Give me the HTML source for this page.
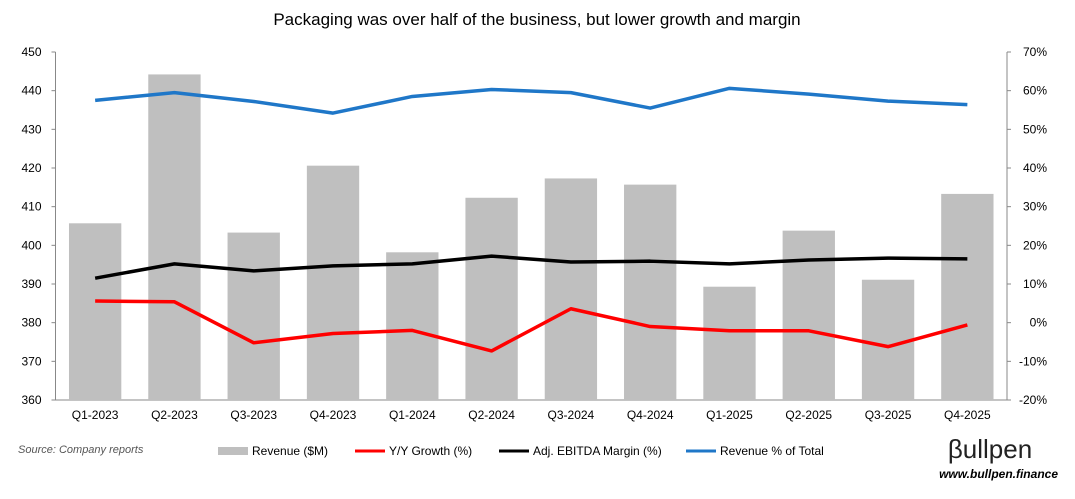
<!DOCTYPE html>
<html><head><meta charset="utf-8"><style>
body{margin:0;background:#fff;font-family:"Liberation Sans",sans-serif;}
svg text{font-family:"Liberation Sans",sans-serif;}
</style></head><body>
<svg id="chart" width="1075" height="494" xmlns="http://www.w3.org/2000/svg">
<text x="537" y="25" text-anchor="middle" font-size="17" fill="#000">Packaging was over half of the business, but lower growth and margin</text>
<g id="plot"></g>
<text x="18" y="453" font-size="11" font-style="italic" fill="#555">Source: Company reports</text>
<g>
<rect x="218" y="447" width="30" height="8" fill="#bfbfbf"/>
<text x="252" y="455" font-size="12">Revenue ($M)</text>
<line x1="355" y1="451" x2="385" y2="451" stroke="#ff0000" stroke-width="3"/>
<text x="389" y="455" font-size="12">Y/Y Growth (%)</text>
<line x1="499" y1="451" x2="529" y2="451" stroke="#000" stroke-width="3"/>
<text x="533" y="455" font-size="12">Adj. EBITDA Margin (%)</text>
<line x1="686" y1="451" x2="716" y2="451" stroke="#1f77c8" stroke-width="3"/>
<text x="720" y="455" font-size="12">Revenue % of Total</text>
</g>
<text x="990" y="458" font-size="26" fill="#222" text-anchor="middle">βullpen</text>
<text x="1058" y="478" font-size="12" font-style="italic" font-weight="bold" text-anchor="end">www.bullpen.finance</text>
</svg>
<script>
const categories=["Q1-2023","Q2-2023","Q3-2023","Q4-2023","Q1-2024","Q2-2024","Q3-2024","Q4-2024","Q1-2025","Q2-2025","Q3-2025","Q4-2025"];
const revenue=[405.7,444.2,403.3,420.6,398.2,412.3,417.3,415.7,389.3,403.8,391.1,413.3];
const growth=[5.6,5.4,-5.2,-2.8,-2.0,-7.3,3.6,-1.0,-2.1,-2.1,-6.2,-0.6];
const margin=[11.5,15.2,13.4,14.7,15.2,17.2,15.7,15.9,15.2,16.2,16.7,16.5];
const share=[57.5,59.5,57.2,54.2,58.5,60.3,59.5,55.5,60.6,59.1,57.3,56.4];
const leftTicks=[360,370,380,390,400,410,420,430,440,450];
const rightTicks=[-20,-10,0,10,20,30,40,50,60,70];
const NS="http://www.w3.org/2000/svg";
const g=document.getElementById('plot');
const X0=55.5,X1=1007,Y0=52,Y1=400;
const bw=(X1-X0)/categories.length;
const xc=i=>X0+bw*(i+0.5);
const yL=v=>Y1-(v-360)/90*(Y1-Y0);
const yR=v=>Y1-(v+20)/90*(Y1-Y0);
function mk(t,a){const e=document.createElementNS(NS,t);for(const k in a)e.setAttribute(k,a[k]);g.appendChild(e);return e;}
let e;
e=mk('line',{x1:X0,y1:Y0,x2:X0,y2:Y1,stroke:'#888'});


e=mk('line',{x1:X1,y1:Y0,x2:X1,y2:Y1,stroke:'#888'});


e=mk('line',{x1:X0,y1:Y1,x2:X1,y2:Y1,stroke:'#888'});


leftTicks.forEach(v=>{
 e=mk('text',{x:X0-14,y:yL(v)+4,'font-size':12,'text-anchor':'end'});e.textContent=v;
 
 
 mk('line',{x1:X0-4,y1:yL(v),x2:X0,y2:yL(v),stroke:'#888'});
});
rightTicks.forEach(v=>{
 e=mk('text',{x:X1+40,y:yR(v)+4,'font-size':12,'text-anchor':'end'});e.textContent=v+'%';
 
 
 mk('line',{x1:X1,y1:yR(v),x2:X1+4,y2:yR(v),stroke:'#888'});
});
categories.forEach((c,i)=>{
 e=mk('rect',{x:xc(i)-bw*0.33,y:yL(revenue[i]),width:bw*0.66,height:Y1-yL(revenue[i]),fill:'#bfbfbf'});
 
 
 e=mk('text',{x:xc(i),y:Y1+19,'font-size':12,'text-anchor':'middle'});e.textContent=c;
 
 
});
function line(arr,col,name){
 e=mk('polyline',{points:arr.map((v,i)=>xc(i)+','+yR(v)).join(' '),fill:'none',stroke:col,'stroke-width':3.5,'stroke-linejoin':'round'});
 
 
}
line(growth,'#ff0000','growth-line');
line(margin,'#000000','margin-line');
line(share,'#1f77c8','share-line');
</script>
</body></html>
